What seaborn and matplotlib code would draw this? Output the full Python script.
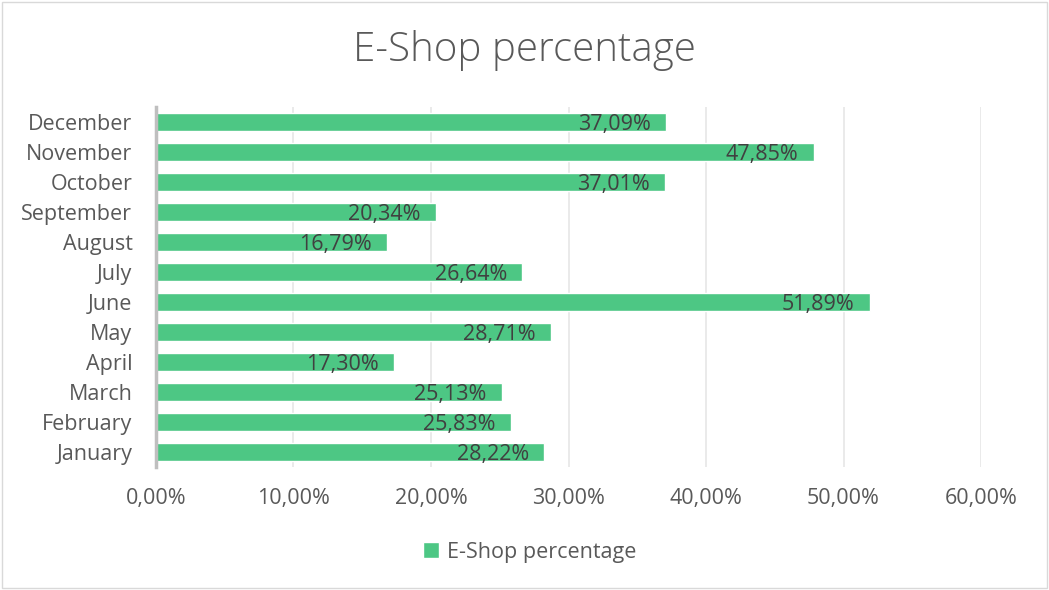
import matplotlib
matplotlib.use("Agg")
import matplotlib.pyplot as plt
import seaborn as sns
import pandas as pd
from matplotlib.patches import Rectangle
from matplotlib.ticker import FuncFormatter

months = ["January", "February", "March", "April", "May", "June",
          "July", "August", "September", "October", "November", "December"]
values = [28.22, 25.83, 25.13, 17.30, 28.71, 51.89,
          26.64, 16.79, 20.34, 37.01, 47.85, 37.09]
series_name = "E-Shop percentage"
title = "E-Shop percentage"
xticks = [0, 10, 20, 30, 40, 50, 60]

sns.set_theme(style="white")
plt.rcParams['font.family'] = ['Open Sans', 'DejaVu Sans']

bar_color = "#4DC784"
text_dark = "#404040"
tick_color = "#595959"

df = pd.DataFrame({"month": months, "value": values, "series": series_name})
order = months[::-1]

fig = plt.figure(figsize=(10.49, 5.90), dpi=100)
ax = fig.add_axes([0.1487, 0.2085, 0.9352 - 0.1487, 0.8186 - 0.2085])

sns.barplot(data=df, y="month", x="value", order=order, color=bar_color,
            orient="h", width=0.57, ax=ax, label=series_name, saturation=1)

ax.set_xlim(0, 60)
ax.set_ylim(len(months) - 0.5, -0.5)
ax.set_xticks(xticks)
ax.xaxis.set_major_formatter(FuncFormatter(lambda v, p: f"{v:.2f}%".replace(".", ",")))
ax.set_xlabel("")
ax.set_ylabel("")
ax.grid(axis="x", color="#e6e6e6", linewidth=1.2)
ax.set_axisbelow(True)
for s in ["top", "right", "bottom"]:
    ax.spines[s].set_visible(False)
ax.spines["left"].set_color("#bfbfbf")
ax.spines["left"].set_linewidth(2.5)
ax.tick_params(axis="both", length=0, labelsize=15.5, labelcolor=tick_color)
ax.tick_params(axis="x", pad=15)
ax.tick_params(axis="y", pad=17)

for cont in ax.containers:
    for rect, lab in zip(cont, [df.set_index("month").loc[m, "value"] for m in order]):
        ax.annotate(f"{lab:.2f}%".replace(".", ","),
                    xy=(rect.get_width(), rect.get_y() + rect.get_height() / 2),
                    xytext=(-11, -1.5), textcoords="offset points",
                    ha="right", va="center", fontsize=15.5, color=text_dark)

fig.text(0.5, 0.915, title, ha="center", va="center", fontsize=29,
         color=tick_color, fontweight="light")

leg = ax.legend(loc="center", bbox_to_anchor=(0.505, 0.064),
                bbox_transform=fig.transFigure, frameon=False,
                fontsize=15.5, handlelength=0.75, handleheight=0.75,
                handletextpad=0.35)
for t in leg.get_texts():
    t.set_color(tick_color)

fig.patches.append(Rectangle((0.002, 0.003), 0.996, 0.994, transform=fig.transFigure,
                             fill=False, edgecolor="#d9d9d9", linewidth=1))

fig.savefig("out.png", dpi=100)
